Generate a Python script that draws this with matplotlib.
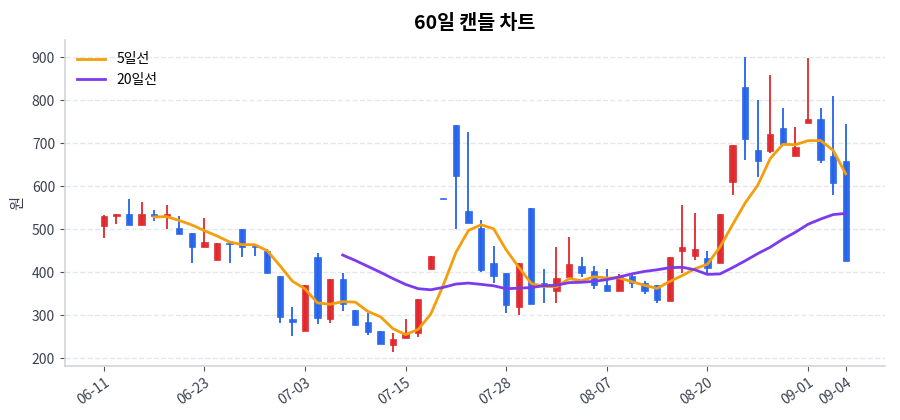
import numpy as np
import matplotlib
matplotlib.use("Agg")
import matplotlib.pyplot as plt

plt.rcParams['font.family'] = ['Noto Sans CJK KR', 'DejaVu Sans']

dates = ['06-11', '06-12', '06-13', '06-16', '06-17', '06-18', '06-19', '06-20',
         '06-23', '06-24', '06-25', '06-26', '06-27', '06-30', '07-01', '07-02',
         '07-03', '07-04', '07-07', '07-08', '07-09', '07-10', '07-11', '07-14',
         '07-15', '07-16', '07-17', '07-18', '07-21', '07-22', '07-23', '07-24',
         '07-28', '07-29', '07-30', '07-31', '08-01', '08-04', '08-05', '08-06',
         '08-07', '08-08', '08-11', '08-12', '08-13', '08-14', '08-18', '08-19',
         '08-20', '08-21', '08-22', '08-25', '08-26', '08-27', '08-28', '08-29',
         '09-01', '09-02', '09-03', '09-04']

opens = [508, 530, 534, 510, 535, 530, 503, 491, 458, 427,
         468, 500, 461, 449, 390, 290, 262, 435, 290, 384,
         312, 285, 262, 231, 246, 258, 406, 570, 742, 543,
         503, 420, 397, 318, 549, 374, 357, 388, 415, 402,
         370, 357, 391, 375, 369, 333, 449, 438, 432, 422,
         609, 831, 685, 682, 736, 670, 747, 756, 669, 659]
highs = [533, 534, 571, 563, 545, 556, 530, 491, 526, 468,
         468, 500, 461, 454, 390, 319, 369, 444, 384, 398,
         312, 305, 262, 259, 292, 338, 438, 570, 742, 726,
         520, 460, 397, 422, 549, 408, 458, 481, 436, 414,
         408, 396, 396, 379, 369, 435, 556, 538, 448, 535,
         695, 900, 800, 858, 782, 738, 898, 781, 810, 744]
lows = [480, 512, 510, 510, 519, 500, 489, 420, 458, 427,
        421, 435, 438, 399, 281, 252, 262, 279, 281, 310,
        278, 254, 233, 215, 246, 248, 406, 570, 500, 514,
        400, 375, 304, 301, 325, 328, 329, 388, 388, 361,
        355, 357, 364, 350, 327, 333, 398, 428, 395, 422,
        579, 661, 620, 678, 699, 670, 747, 653, 580, 426]
closes = [531, 534, 510, 536, 530, 535, 489, 458, 470, 468,
          465, 458, 458, 399, 296, 283, 369, 294, 384, 326,
          278, 260, 233, 244, 258, 338, 438, 570, 624, 514,
          404, 392, 324, 422, 325, 370, 387, 419, 399, 371,
          355, 388, 375, 357, 335, 435, 458, 453, 410, 535,
          695, 710, 659, 722, 699, 691, 757, 661, 608, 426]

tick_idx = [0, 8, 16, 24, 32, 40, 48, 56, 59]

UP = '#e0262b'
DOWN = '#2563eb'

o = np.array(opens, dtype=float)
h = np.array(highs, dtype=float)
l = np.array(lows, dtype=float)
c = np.array(closes, dtype=float)
x = np.arange(len(c))

ma5 = np.full(len(c), np.nan)
ma20 = np.full(len(c), np.nan)
for i in range(len(c)):
    if i >= 4:
        ma5[i] = c[i - 4:i + 1].mean()
    if i >= 19:
        ma20[i] = c[i - 19:i + 1].mean()

fig, ax = plt.subplots(figsize=(9, 4.2), dpi=100)
fig.subplots_adjust(left=0.072, right=0.983, top=0.905, bottom=0.128)

colors = [UP if c[i] > o[i] else DOWN for i in range(len(c))]
ax.vlines(x, l, h, colors=colors, linewidth=1.3, zorder=2)
body_h = np.maximum(np.abs(c - o), 3)
ax.bar(x, body_h, bottom=np.minimum(o, c), width=0.5, color=colors,
       edgecolor=colors, linewidth=0.5, alpha=0.95, zorder=3)

ax.plot(x, ma5, color='#f59e0b', linewidth=2, label='5일선', zorder=4)
ax.plot(x, ma20, color='#7c3aed', linewidth=2, label='20일선', zorder=4)

ax.set_xlim(-3.1, 62.1)
ax.set_ylim(181, 940)
ax.set_yticks([200, 300, 400, 500, 600, 700, 800, 900])
ax.set_xticks(tick_idx)
ax.set_xticklabels([dates[i] for i in tick_idx], rotation=35, ha='right',
                   rotation_mode='anchor')
ax.tick_params(colors='#555555', labelsize=10, labelcolor='#3a4250')
ax.grid(axis='y', linestyle='--', color='#e5e7eb', linewidth=1)
ax.set_axisbelow(True)
for s in ['top', 'right']:
    ax.spines[s].set_visible(False)
for s in ['left', 'bottom']:
    ax.spines[s].set_color('#d1d5db')
    ax.spines[s].set_linewidth(1.2)

ax.set_ylabel('원', color='#3a4250', fontsize=11)
ax.set_title('60일 캔들 차트', fontsize=14, fontweight='bold', pad=8)
ax.legend(loc='upper left', frameon=False, fontsize=10)

fig.savefig('out.png')
